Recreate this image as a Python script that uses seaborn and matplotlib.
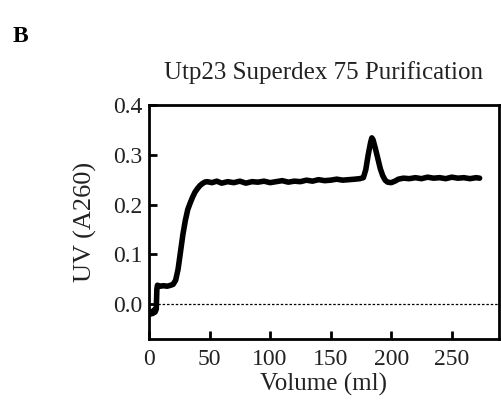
import matplotlib
matplotlib.use("Agg")
import matplotlib.pyplot as plt
import seaborn as sns
import pandas as pd

sns.set_theme(style="white")
plt.rcParams['font.family'] = ['Liberation Serif', 'DejaVu Serif']

volume_ml = [0, 1, 2, 3, 4, 5, 6, 6.5, 7, 9, 12, 15, 18, 20, 22, 24, 26, 28, 30, 32, 34, 36, 38, 40,
             42, 44, 46, 48, 52, 56, 60, 65, 70, 75, 80, 85, 90, 95, 100, 105, 110, 115, 120,
             125, 130, 135, 140, 145, 150, 155, 160, 165, 170, 174, 177, 179, 181, 183, 184,
             185, 187, 189, 191, 193, 195, 197, 200, 203, 206, 210, 215, 220, 225, 230, 235,
             240, 245, 250, 255, 260, 265, 270, 273]
uv_a260 = [-0.018, -0.020, -0.015, -0.019, -0.012, -0.016, -0.010, 0.030, 0.038, 0.036, 0.037, 0.036,
           0.038, 0.040, 0.048, 0.070, 0.105, 0.140, 0.168, 0.190, 0.203, 0.215, 0.225, 0.232,
           0.238, 0.242, 0.245, 0.246, 0.244, 0.247, 0.243, 0.246, 0.244, 0.247, 0.243, 0.246,
           0.245, 0.247, 0.244, 0.246, 0.248, 0.245, 0.247, 0.246, 0.249, 0.247, 0.250, 0.248,
           0.249, 0.251, 0.249, 0.250, 0.251, 0.252, 0.254, 0.270, 0.300, 0.325, 0.334,
           0.330, 0.312, 0.292, 0.272, 0.258, 0.249, 0.245, 0.244, 0.247, 0.251, 0.253, 0.252,
           0.254, 0.252, 0.255, 0.253, 0.254, 0.252, 0.255, 0.253, 0.254, 0.252, 0.254, 0.253]

df = pd.DataFrame({"Volume (ml)": volume_ml, "UV (A260)": uv_a260})

fig = plt.figure(figsize=(5.01, 4.01), dpi=100)
ax = fig.add_axes([0.2974, 0.1546, 0.6986, 0.5836])

ax.axhline(0, color="black", linestyle=(0, (2, 1.5)), linewidth=0.9, zorder=1)
sns.lineplot(data=df, x="Volume (ml)", y="UV (A260)", ax=ax, color="black",
             linewidth=4.0, sort=False, estimator=None, zorder=3)

ax.set_xlim(0, 289)
ax.set_ylim(-0.07, 0.4)
ax.set_xticks([0, 50, 100, 150, 200, 250])
ax.set_yticks([0.0, 0.1, 0.2, 0.3, 0.4])
ax.set_yticklabels(["0.0", "0.1", "0.2", "0.3", "0.4"])

for s in ax.spines.values():
    s.set_visible(True)
    s.set_color("black")
    s.set_linewidth(2.0)

ax.tick_params(axis="both", direction="in", length=6, width=2, colors="black",
               labelsize=17, labelcolor="#222222")
ax.tick_params(axis="x", bottom=True, top=False, pad=7)
ax.tick_params(axis="y", left=True, right=False, pad=5)

ax.set_xlabel("Volume (ml)", fontsize=18, color="#222222", labelpad=2)
ax.set_ylabel("UV (A260)", fontsize=19, color="#222222", labelpad=11)
ax.set_title("Utp23 Superdex 75 Purification", fontsize=18, color="#222222", pad=19)

fig.text(0.025, 0.895, "B", fontsize=17, fontweight="bold", color="black")

fig.savefig("out.png", dpi=100)
